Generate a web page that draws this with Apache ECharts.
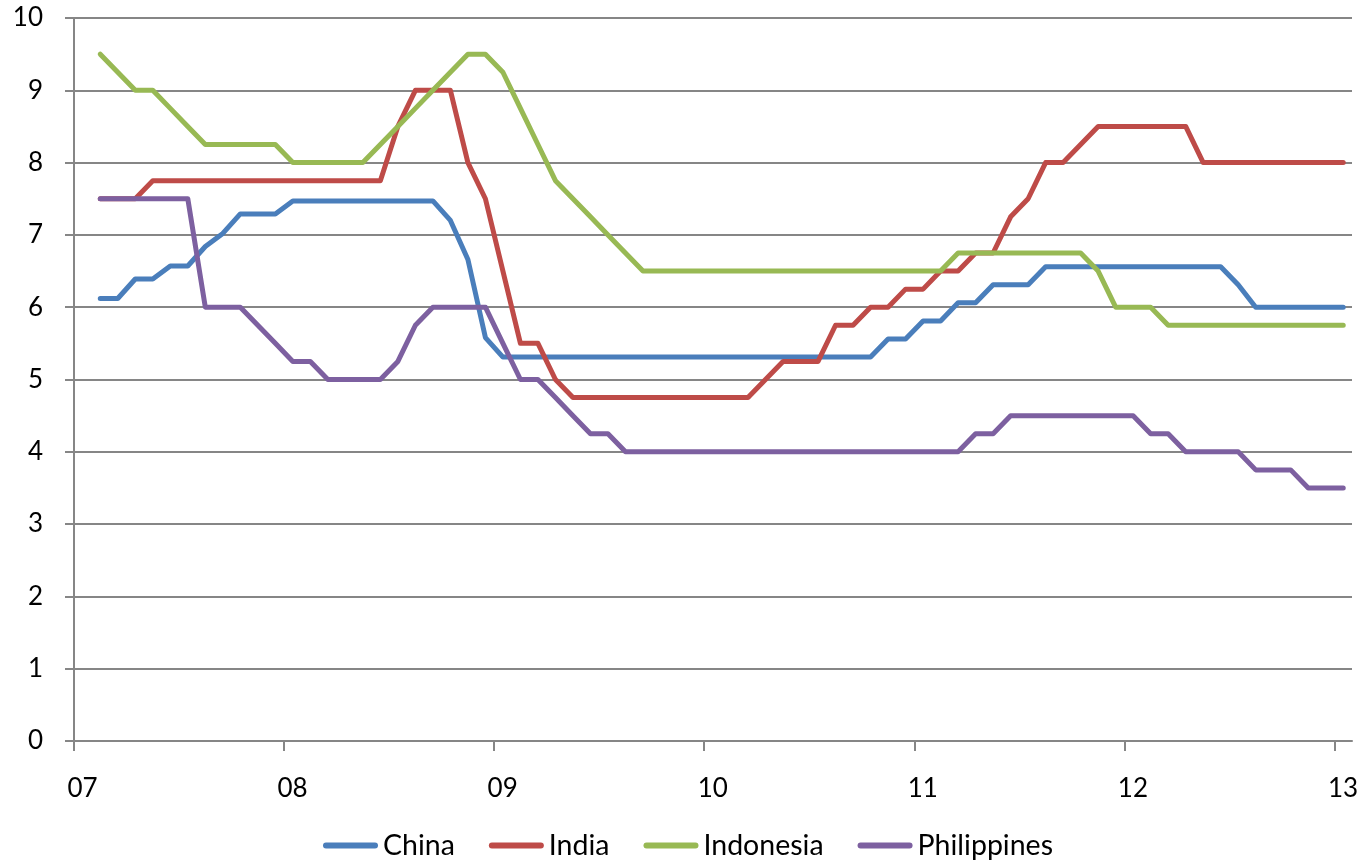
<!DOCTYPE html>
<html>
<head>
<meta charset="utf-8">
<title>Policy rates</title>
<script src="https://cdn.jsdelivr.net/npm/echarts@6/dist/echarts.min.js"></script>
<style>
  html, body { margin: 0; padding: 0; background: #ffffff; }
  #chart { width: 1364px; height: 860px; }
</style>
</head>
<body>
<div id="chart"></div>
<script>
// Monthly observations, Feb 2007 – Jan 2013
const startMonth = '2007-02';
const monthCount = 72;

const seriesNames = ['China', 'India', 'Indonesia', 'Philippines'];
const seriesColors = ['#4A7EBB', '#BE4B48', '#98B954', '#7D60A0'];

const china = [
  6.12, 6.12, 6.39, 6.39, 6.57, 6.57, 6.84, 7.02, 7.29, 7.29, 7.29,
  7.47, 7.47, 7.47, 7.47, 7.47, 7.47, 7.47, 7.47, 7.47,
  7.20, 6.66, 5.58,
  5.31, 5.31, 5.31, 5.31, 5.31, 5.31, 5.31, 5.31, 5.31, 5.31, 5.31,
  5.31, 5.31, 5.31, 5.31, 5.31, 5.31, 5.31, 5.31, 5.31, 5.31, 5.31,
  5.56, 5.56, 5.81, 5.81, 6.06, 6.06, 6.31, 6.31, 6.31,
  6.56, 6.56, 6.56, 6.56, 6.56, 6.56, 6.56, 6.56, 6.56, 6.56, 6.56,
  6.31, 6.00, 6.00, 6.00, 6.00, 6.00, 6.00
];

const india = [
  7.50, 7.50, 7.50,
  7.75, 7.75, 7.75, 7.75, 7.75, 7.75, 7.75, 7.75, 7.75, 7.75, 7.75, 7.75, 7.75, 7.75,
  8.50, 9.00, 9.00, 9.00, 8.00, 7.50, 6.50, 5.50, 5.50, 5.00,
  4.75, 4.75, 4.75, 4.75, 4.75, 4.75, 4.75, 4.75, 4.75, 4.75, 4.75,
  5.00, 5.25, 5.25, 5.25, 5.75, 5.75, 6.00, 6.00, 6.25, 6.25, 6.50, 6.50,
  6.75, 6.75, 7.25, 7.50, 8.00, 8.00, 8.25,
  8.50, 8.50, 8.50, 8.50, 8.50, 8.50,
  8.00, 8.00, 8.00, 8.00, 8.00, 8.00, 8.00, 8.00, 8.00
];

const indonesia = [
  9.50, 9.25, 9.00, 9.00, 8.75, 8.50,
  8.25, 8.25, 8.25, 8.25, 8.25,
  8.00, 8.00, 8.00, 8.00, 8.00,
  8.25, 8.50, 8.75, 9.00, 9.25, 9.50, 9.50,
  9.25, 8.75, 8.25, 7.75, 7.50, 7.25, 7.00, 6.75,
  6.50, 6.50, 6.50, 6.50, 6.50, 6.50, 6.50, 6.50, 6.50,
  6.50, 6.50, 6.50, 6.50, 6.50, 6.50, 6.50, 6.50, 6.50,
  6.75, 6.75, 6.75, 6.75, 6.75, 6.75, 6.75, 6.75,
  6.50, 6.00, 6.00, 6.00,
  5.75, 5.75, 5.75, 5.75, 5.75, 5.75, 5.75, 5.75, 5.75, 5.75, 5.75
];

const philippines = [
  7.50, 7.50, 7.50, 7.50, 7.50, 7.50,
  6.00, 6.00, 6.00, 5.75, 5.50, 5.25, 5.25,
  5.00, 5.00, 5.00, 5.00, 5.25, 5.75,
  6.00, 6.00, 6.00, 6.00, 5.50, 5.00, 5.00, 4.75, 4.50, 4.25, 4.25,
  4.00, 4.00, 4.00, 4.00, 4.00, 4.00, 4.00, 4.00, 4.00, 4.00,
  4.00, 4.00, 4.00, 4.00, 4.00, 4.00, 4.00, 4.00, 4.00, 4.00,
  4.25, 4.25,
  4.50, 4.50, 4.50, 4.50, 4.50, 4.50, 4.50, 4.50,
  4.25, 4.25, 4.00, 4.00, 4.00, 4.00,
  3.75, 3.75, 3.75, 3.50, 3.50, 3.50
];

const yearTicks = [0, 12, 24, 36, 48, 60, 72];   // months since Jan 2007
const yearLabels = ['07', '08', '09', '10', '11', '12', '13'];

// month labels 'YYYY-MM'
const months = [];
{
  let [y, m] = startMonth.split('-').map(Number);
  for (let i = 0; i < monthCount; i++) {
    months.push(y + '-' + String(m).padStart(2, '0'));
    m++; if (m > 12) { m = 1; y++; }
  }
}

// place each observation at the middle of its month on a months-since-2007 scale
function monthPos(label) {
  const [y, m] = label.split('-').map(Number);
  return (y - 2007) * 12 + (m - 1) + 0.5;
}

const allValues = [china, india, indonesia, philippines];

const FONT = 'Lato';
const AXIS_GREY = '#868686';

const chart = echarts.init(document.getElementById('chart'), null, { renderer: 'canvas' });

chart.setOption({
  backgroundColor: '#ffffff',
  animation: false,
  grid: { left: 74, right: 12, top: 18, bottom: 119, containLabel: false },
  xAxis: {
    type: 'value',
    min: 0,
    max: 73,
    interval: 12,
    axisLine: { show: true, lineStyle: { color: AXIS_GREY, width: 2 } },
    axisTick: {
      show: true, inside: false, length: 10,
      customValues: yearTicks,
      lineStyle: { color: AXIS_GREY, width: 2 }
    },
    axisLabel: {
      customValues: yearTicks,
      margin: 35,
      padding: [0, 0, 0, 17],
      fontFamily: FONT,
      fontSize: 26,
      color: '#000000',
      formatter: v => yearLabels[yearTicks.indexOf(Math.round(v))] || ''
    },
    splitLine: { show: false }
  },
  yAxis: {
    type: 'value',
    min: 0,
    max: 10,
    interval: 1,
    axisLine: { show: true, lineStyle: { color: AXIS_GREY, width: 2 } },
    axisTick: { show: true, inside: false, length: 9, lineStyle: { color: AXIS_GREY, width: 2 } },
    axisLabel: { margin: 31, fontFamily: FONT, fontSize: 26, color: '#000000' },
    splitLine: { show: true, lineStyle: { color: AXIS_GREY, width: 2 } }
  },
  legend: {
    top: 826,
    left: 318,
    itemWidth: 55,
    itemHeight: 6,
    itemGap: 34,
    icon: 'path://M3,0 L52,0 A3,3 0 0 1 52,6 L3,6 A3,3 0 0 1 3,0 Z',
    textStyle: { fontFamily: FONT, fontSize: 28.5, color: '#000000', padding: [0, 0, 0, 0] },
    data: seriesNames
  },
  series: seriesNames.map((name, i) => ({
    name,
    type: 'line',
    data: months.map((mo, j) => [monthPos(mo), allValues[i][j]]),
    symbol: 'none',
    showSymbol: false,
    smooth: false,
    color: seriesColors[i],
    lineStyle: { width: 5, color: seriesColors[i], cap: 'round', join: 'round' },
    itemStyle: { color: seriesColors[i] },
    z: 2 + i
  }))
});
</script>
</body>
</html>
